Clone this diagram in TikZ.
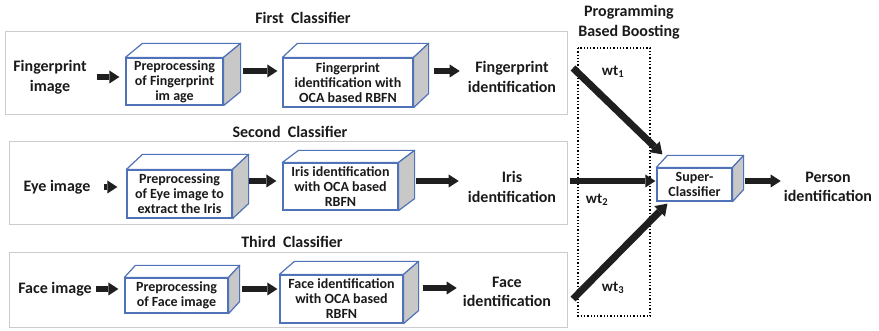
\documentclass[tikz,border=0pt]{standalone}
\usepackage{fontspec}
\setmainfont{Carlito}
\usetikzlibrary{arrows.meta}
\definecolor{cubeblue}{HTML}{4F72B8}
\definecolor{sidegray}{HTML}{C8C8C8}
\definecolor{framegray}{HTML}{CCCCCC}
\definecolor{inkc}{HTML}{1A1A1A}
\newcommand\cubefaces[3]{%
  \filldraw[cubeline,fill=white] (#1.north west) -- ++(#2,#3) -- ([shift={(#2,#3)}]#1.north east) -- (#1.north east) -- cycle;
  \filldraw[cubeline,fill=sidegray] (#1.north east) -- ([shift={(#2,#3)}]#1.north east) -- ([shift={(#2,#3)}]#1.south east) -- (#1.south east) -- cycle;
}
\begin{document}
\begin{tikzpicture}[x=1pt,y=-1pt,
  every node/.style={text=inkc},
  lbl/.style={align=center,font=\bfseries\fontsize{16}{19.5}\selectfont,inner sep=1pt},
  ttl/.style={font=\bfseries\fontsize{16}{19.5}\selectfont,inner sep=0pt},
  front/.style={draw=cubeblue,line width=1.2pt,fill=white,align=center,inner sep=0pt,
     font=\bfseries\fontsize{14}{15}\selectfont},
  cubeline/.style={draw=cubeblue,line width=1.2pt,line join=round},
  frame/.style={draw=framegray,line width=1pt},
  arr/.style={line width=6pt,draw=black!88,-{Triangle[length=10pt,width=13pt,line width=0pt]}},
  bigarr/.style={line width=7pt,draw=black!88,-{Triangle[length=11pt,width=15pt,line width=0pt]}},
  wlbl/.style={font=\bfseries\fontsize{15}{18}\selectfont,inner sep=0pt}]
\useasboundingbox (0,0) rectangle (879,331);
% classifier frames
\draw[frame] (5,32) rectangle (567,115);
\draw[frame] (9,142) rectangle (567,225);
\draw[frame] (9,253) rectangle (567,328);
\draw[black,dotted,line width=1.3pt] (578,48) rectangle (650,316);
% titles
\node[ttl] (t1) at (303,18) {First\ \ Classifier};
\node[ttl] (t2) at (290,132) {Second\ \ Classifier};
\node[ttl] (t3) at (292,242) {Third\ \ Classifier};
\node[lbl] (t4) at (629,22) {Programming\\Based Boosting};
% row 1
\node[lbl] (fpimg) at (50,77) {Fingerprint\\image};
\node[front,minimum width=97pt,minimum height=47pt] (pre1) at (174.5,81.5) {Preprocessing\\of Fingerprint\\im age};
\cubefaces{pre1}{17}{-14}
\node[front,minimum width=130pt,minimum height=49pt] (id1) at (348,82.5) {Fingerprint\\identification with\\OCA based RBFN};
\cubefaces{id1}{15}{-14}
\node[lbl] (fpid) at (512,77) {Fingerprint\\identification};
% row 2
\node[lbl] (eyeimg) at (57,187) {Eye image};
\node[front,minimum width=105pt,minimum height=48pt] (pre2) at (179.5,194) {Preprocessing\\of Eye image to\\extract the Iris};
\cubefaces{pre2}{16}{-15}
\node[front,minimum width=115pt,minimum height=47pt] (id2) at (340.5,186.5) {Iris identification\\with OCA based\\RBFN};
\cubefaces{id2}{16}{-12}
\node[lbl] (irisid) at (512,187) {Iris\\identification};
% row 3
\node[lbl] (faceimg) at (55,289) {Face image};
\node[front,minimum width=103pt,minimum height=35pt] (pre3) at (176.5,295.5) {Preprocessing\\of Face image};
\cubefaces{pre3}{11}{-12}
\node[front,minimum width=123pt,minimum height=48pt] (id3) at (341.5,299) {Face identification\\with OCA based\\RBFN};
\cubefaces{id3}{15}{-13}
\node[lbl] (faceid) at (507,292) {Face\\identification};
% super classifier
\node[front,minimum width=75pt,minimum height=33pt] (super) at (694.5,184.5) {Super-\\Classifier};
\cubefaces{super}{11}{-12}
\node[lbl] (person) at (828,187) {Person\\identification};
% row arrows
\draw[arr] ([xshift=9pt]fpimg.east) -- ([xshift=-6pt]fpimg.east -| pre1.west);
\draw[arr,shorten >=5pt] ([shift={(19,-10.5)}]pre1.east) coordinate (a1) -- (a1 -| id1.west);
\draw[arr,shorten >=7pt] ([shift={(20,-11.5)}]id1.east) coordinate (a2) -- (a2 -| fpid.west);
\draw[arr] ([xshift=12pt]eyeimg.east) -- ([xshift=-9pt]eyeimg.east -| pre2.west);
\draw[arr,shorten >=6pt] ([shift={(16,-13)}]pre2.east) coordinate (a3) -- (a3 -| id2.west);
\draw[arr,shorten >=8pt] ([shift={(17,-5.5)}]id2.east) coordinate (a4) -- (a4 -| irisid.west);
\draw[arr] ([xshift=3pt]faceimg.east) -- ([xshift=-6pt]faceimg.east -| pre3.west);
\draw[arr,shorten >=2pt] ([shift={(13,-6.5)}]pre3.east) coordinate (a5) -- (a5 -| id3.west);
\draw[arr,shorten >=5pt] ([shift={(19,-11)}]id3.east) coordinate (a6) -- (a6 -| faceid.west);
% boosting arrows
\coordinate (w1s) at (573,68);
\coordinate (w2s) at (570,181);
\coordinate (w3s) at (573,299);
\draw[bigarr] (w1s) -- ([shift={(6,-13)}]super.north west);
\draw[arr,shorten >=1pt] (w2s) -- (w2s -| super.west);
\draw[bigarr] (w3s) -- ([shift={(11,2)}]super.south west);
\draw[arr,shorten >=2pt] ([shift={(12,-3.5)}]super.east) coordinate (a7) -- (a7 -| person.west);
\node[wlbl] (wt1) at (613,72) {wt\textsubscript{1}};
\node[wlbl] (wt2) at (597,200) {wt\textsubscript{2}};
\node[wlbl] (wt3) at (613,288) {wt\textsubscript{3}};
\end{tikzpicture}
\end{document}
